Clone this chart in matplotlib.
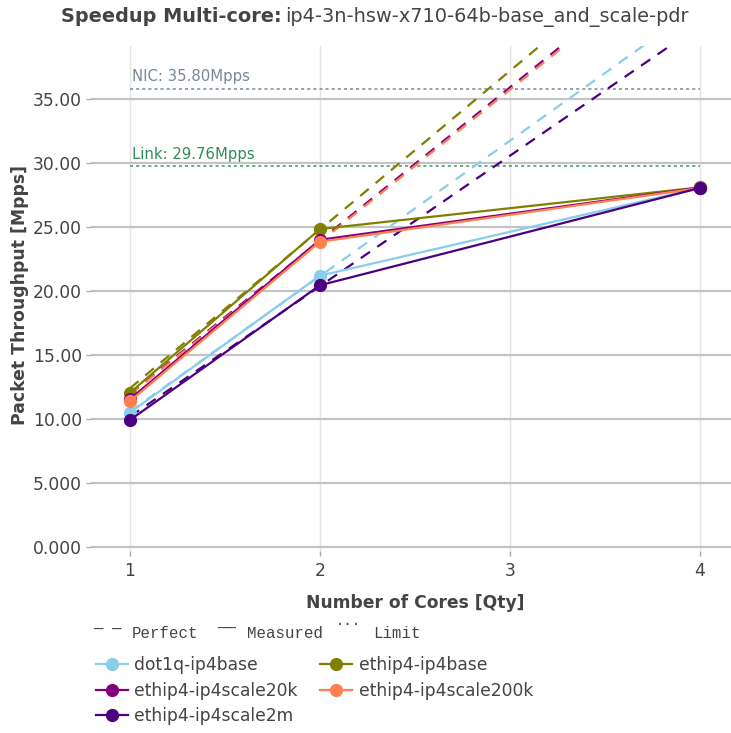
import matplotlib.pyplot as plt

# Measured throughput [Mpps] at 1, 2 and 4 cores
cores = [1, 2, 4]
tests = ["dot1q-ip4base", "ethip4-ip4base", "ethip4-ip4scale20k",
         "ethip4-ip4scale200k", "ethip4-ip4scale2m"]
colors = ["#87ceeb", "#808000", "#800080", "#ff7f50", "#4b0082"]
dot1q_ip4base = [10.50, 21.20, 28.05]
ethip4_ip4base = [12.05, 24.84, 28.10]
ethip4_ip4scale20k = [11.55, 24.00, 28.08]
ethip4_ip4scale200k = [11.40, 23.85, 28.05]
ethip4_ip4scale2m = [9.92, 20.45, 28.05]
measured = [dot1q_ip4base, ethip4_ip4base, ethip4_ip4scale20k,
            ethip4_ip4scale200k, ethip4_ip4scale2m]
# single core value the "perfect" scaling lines start from
perfect_base = [10.58, 12.40, 11.97, 11.91, 10.19]

nic_limit = 35.80
link_limit = 29.76
x_ticks = [1, 2, 3, 4]
y_ticks = [0, 5, 10, 15, 20, 25, 30, 35]
y_tick_labels = ["0.000", "5.000", "10.00", "15.00", "20.00", "25.00", "30.00", "35.00"]

W, H = 731, 733
fig = plt.figure(figsize=(W / 100, H / 100), dpi=100)
ax = fig.add_axes([91 / W, 1 - 551 / H, (W - 91) / W, (551 - 46) / H])

handles = {}
for name, vals, base, col in zip(tests, measured, perfect_base, colors):
    ax.plot(cores, [base * c for c in cores], color=col, lw=1.6,
            dashes=(5, 4), zorder=3)
    h, = ax.plot(cores, vals, color=col, lw=1.6, marker="o", ms=8.5,
                 zorder=4, label=name)
    handles[name] = h

# limits
ax.plot([1, 4], [nic_limit, nic_limit], color="#778899", lw=1.1,
        dashes=(2, 2), zorder=2)
ax.plot([1, 4], [link_limit, link_limit], color="#3c9a63", lw=1.1,
        dashes=(2, 2), zorder=2)
ax.text(1.01, nic_limit + 0.35, "NIC: 35.80Mpps", color="#778899",
        fontsize=10.7, va="bottom", ha="left")
ax.text(1.01, link_limit + 0.35, "Link: 29.76Mpps", color="#2e8b57",
        fontsize=10.7, va="bottom", ha="left")

ax.set_xlim(0.795, 4.163)
ax.set_ylim(-0.31, 39.14)
ax.set_xticks(x_ticks)
ax.set_xticklabels([str(t) for t in x_ticks])
ax.set_yticks(y_ticks)
ax.set_yticklabels(y_tick_labels)
ax.tick_params(axis="both", labelsize=12.3, labelcolor="#444444",
               color="#aaaaaa", length=3.6, width=1, pad=3)
ax.tick_params(axis="x", pad=4)
ax.grid(axis="y", color="#c4c4c4", lw=1.6, zorder=0)
ax.grid(axis="x", color="#e5e5e5", lw=1, zorder=0)
ax.set_axisbelow(True)
for s in ax.spines.values():
    s.set_visible(False)

# titles
fig.text(61 / W, 1 - 17 / H, "Speedup Multi-core:", fontsize=13.9,
         fontweight="bold", color="#444444", ha="left", va="center")
fig.text(285 / W, 1 - 17 / H, "ip4-3n-hsw-x710-64b-base_and_scale-pdr",
         fontsize=13.9, color="#444444", ha="left", va="center")
fig.text(20 / W, 1 - 295 / H, "Packet Throughput [Mpps]", fontsize=12.4,
         fontweight="bold", color="#444444", rotation=90,
         ha="center", va="center")
fig.text(415 / W, 1 - 603 / H, "Number of Cores [Qty]", fontsize=12.3,
         fontweight="bold", color="#444444", ha="center", va="center")

# line style key
mono = "Liberation Mono"
for txt, px in [("Perfect", 132), ("Measured", 247), ("Limit", 373)]:
    fig.text(px / W, 1 - 634 / H, txt, fontsize=11.3, family=mono,
             color="#444444", ha="left", va="center")
fig.text(93 / W, 1 - 627 / H, "_ _", fontsize=11.3, family=mono,
         color="#444444", ha="left", va="baseline")
fig.text(217 / W, 1 - 627 / H, "__", fontsize=11.3, family=mono,
         color="#444444", ha="left", va="baseline")
fig.text(336 / W, 1 - 625 / H, "...", fontsize=10, family=mono,
         color="#444444", ha="left", va="baseline")

order = ["dot1q-ip4base", "ethip4-ip4scale20k", "ethip4-ip4scale2m",
         "ethip4-ip4base", "ethip4-ip4scale200k"]
leg = fig.legend([handles[n] for n in order], order, ncol=2,
                 loc="upper left", bbox_to_anchor=(96 / W, 1 - 656 / H),
                 frameon=False, fontsize=12.3, handlelength=1.85,
                 handletextpad=0.4, columnspacing=1.3, labelspacing=0.45,
                 borderpad=0, borderaxespad=0)
for t in leg.get_texts():
    t.set_color("#444444")

fig.savefig("out.png", dpi=100)
